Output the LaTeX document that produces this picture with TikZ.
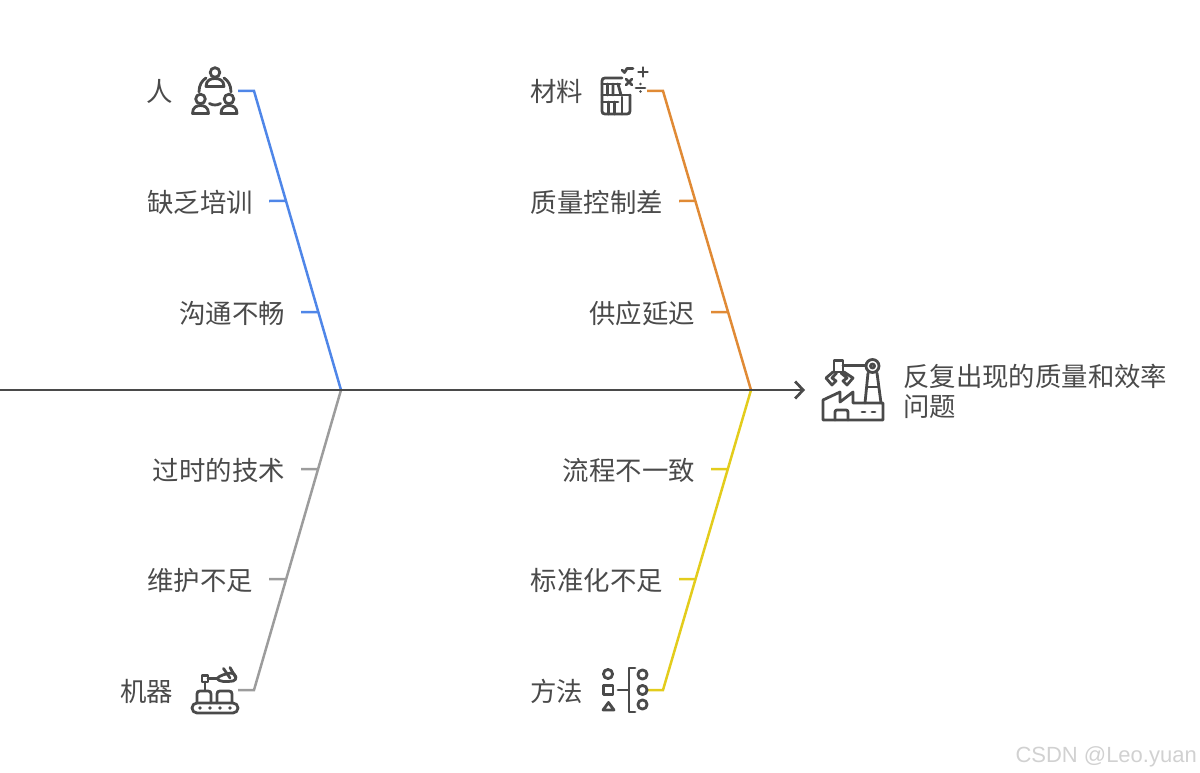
\documentclass[tikz,border=0pt]{standalone}
\usepackage{fontspec}
\setmainfont{Noto Sans CJK SC}
\newfontfamily\wmfont{Liberation Sans}
\usetikzlibrary{arrows.meta,calc}
\definecolor{ink}{HTML}{4A4A4A}
\definecolor{cblue}{HTML}{4F86E8}
\definecolor{corange}{HTML}{E08A35}
\definecolor{cgray}{HTML}{9C9C9C}
\definecolor{cyellow}{HTML}{E3CC1C}
\tikzset{
  lab/.style={inner xsep=16pt,inner ysep=0pt,anchor=east,text=ink,text height=28pt,text depth=6pt,font=\fontsize{26.4}{30}\selectfont},
  bone/.style={line width=2.5pt,line join=miter},
  ico/.style={draw=ink,line width=2.8pt,line cap=round,line join=round,fill=none},
  spine/.style={draw=ink,line width=2.7pt}
}
\begin{document}
\begin{tikzpicture}[x=1pt,y=-1pt]
\useasboundingbox (0,0) rectangle (1200,773);
% joints
\coordinate (tailL) at (0,390);
\coordinate (jL) at (341,390);
\coordinate (jR) at (751,390);
\coordinate (head) at (805,390);
\coordinate (kBlue) at (254,91);
\coordinate (kOrange) at (663,91);
\coordinate (kGray) at (254,690);
\coordinate (kYellow) at (663,690);
\coordinate (sBlue) at (238,91);
\coordinate (sOrange) at (647,91);
\coordinate (sGray) at (238,690);
\coordinate (sYellow) at (647,690);
\coordinate (b1) at ($(kBlue)!0.36789!(jL)$);
\coordinate (b2) at ($(kBlue)!0.73913!(jL)$);
\coordinate (o1) at ($(kOrange)!0.36789!(jR)$);
\coordinate (o2) at ($(kOrange)!0.73913!(jR)$);
\coordinate (g1) at ($(jL)!0.26333!(kGray)$);
\coordinate (g2) at ($(jL)!0.63!(kGray)$);
\coordinate (y1) at ($(jR)!0.26333!(kYellow)$);
\coordinate (y2) at ($(jR)!0.63!(kYellow)$);
% labels
\node[lab] (lRen) at (189,91) {人};
\node[lab] (lB1) at (269,201) {缺乏培训};
\node[lab] (lB2) at (301,312) {沟通不畅};
\node[lab] (lCai) at (599,91) {材料};
\node[lab] (lO1) at (679,201) {质量控制差};
\node[lab] (lO2) at (711,312) {供应延迟};
\node[lab] (lG1) at (301,469) {过时的技术};
\node[lab] (lG2) at (269,579) {维护不足};
\node[lab] (lJi) at (189,690) {机器};
\node[lab] (lY1) at (711,469) {流程不一致};
\node[lab] (lY2) at (679,579) {标准化不足};
\node[lab] (lFa) at (599,690) {方法};
\node[anchor=west,inner sep=0pt,text=ink,align=left,font=\fontsize{26.4}{30}\selectfont] (title) at (903,391) {反复出现的质量和效率\\问题};
\node[anchor=south east,inner sep=0pt,text=black!18,font=\wmfont\fontsize{22}{24}\selectfont] (wm) at (1197,767) {CSDN @Leo.yuan};
% bones
\draw[draw=cblue,bone] (sBlue) -- (kBlue) -- (jL);
\draw[draw=cblue,bone] (lB1.east) -- (b1);
\draw[draw=cblue,bone] (lB2.east) -- (b2);
\draw[draw=corange,bone] (sOrange) -- (kOrange) -- (jR);
\draw[draw=corange,bone] (lO1.east) -- (o1);
\draw[draw=corange,bone] (lO2.east) -- (o2);
\draw[draw=cgray,bone] (sGray) -- (kGray) -- (jL);
\draw[draw=cgray,bone] (lG1.east) -- (g1);
\draw[draw=cgray,bone] (lG2.east) -- (g2);
\draw[draw=cyellow,bone] (sYellow) -- (kYellow) -- (jR);
\draw[draw=cyellow,bone] (lY1.east) -- (y1);
\draw[draw=cyellow,bone] (lY2.east) -- (y2);
\draw[spine,-{Straight Barb[length=8pt,width=17pt,line width=2.7pt]}] (tailL) -- (head);
% people icon
\draw[ico] (215,72.5) circle (4.8);
\draw[ico] (206,86.5) .. controls (206,80) and (211,78.5) .. (215,78.5) .. controls (219,78.5) and (224,80) .. (224,86.5) -- cycle;
\draw[ico] (200.5,99) circle (4.8);
\draw[ico] (192.5,113.5) .. controls (192.5,107) and (197,105.5) .. (200.5,105.5) .. controls (204,105.5) and (208.5,107) .. (208.5,113.5) -- cycle;
\draw[ico] (229,99) circle (4.8);
\draw[ico] (221,113.5) .. controls (221,107) and (225.5,105.5) .. (229,105.5) .. controls (232.5,105.5) and (237,107) .. (237,113.5) -- cycle;
\draw[ico] (199,92) .. controls (199,85) and (202,80.5) .. (206,78);
\draw[ico] (231,92) .. controls (231,85) and (228,80.5) .. (224,78);
\draw[ico] (209.5,103.5) .. controls (213,105.5) and (217,105.5) .. (220.5,103.5);
% materials icon
\draw[ico] (622,78) -- (605,78) .. controls (603,78) and (602,79) .. (602,81) -- (602,111) .. controls (602,113) and (603,114) .. (605,114) -- (627,114) .. controls (629,114) and (630,113) .. (630,111) -- (630,95);
\draw[ico] (602,84) -- (620,84);
\draw[ico] (602,95) -- (630,95);
\draw[ico] (607.5,84) -- (607.5,95) (613,84) -- (613,95) (618,84) -- (621,95);
\draw[ico] (602,102) -- (618,102);
\draw[ico] (608.5,102) -- (608.5,114) (614.5,102) -- (614.5,114) (622,97) -- (622,114);
\draw[ico] (622,70) -- (624.5,72.5) -- (627,68.5) -- (633,68.5);
\draw[ico] (643,67.5) -- (643,76.5) (638.5,72) -- (647.5,72);
\draw[ico] (626,79) -- (632,85) (632,79) -- (626,85);
\draw[ico] (636,88) -- (645,88);
\fill[ink] (640.5,84) circle (1.4) (640.5,91.5) circle (1.4);
% factory icon
\draw[ico] (823,420) -- (823,400) -- (840,392) -- (840,402) -- (853,392) -- (853,403) -- (883,403) -- (883,420) -- cycle;
\draw[ico] (835,420) -- (835,412) .. controls (835,410.5) and (836,410) .. (837,410) -- (846,410) .. controls (847,410) and (848,410.5) .. (848,412) -- (848,420);
\draw[ico] (862,412) -- (865,412) (872,412) -- (875,412);
\draw[ico] (865,403) -- (868,373) (881,403) -- (877,373);
\draw[ico] (867,387) -- (878.5,387);
\draw[ico] (872.5,366) circle (6.5);
\draw[ico] (872.5,366) circle (2);
\draw[ico] (866,365.5) -- (843,365.5);
\draw[ico] (834,372) -- (834,360.5) -- (843,360.5) -- (843,372) -- cycle;
\draw[ico] (833,372) -- (826,378) -- (832,385) -- (836,381) -- (832,378) -- (836.5,373);
\draw[ico] (844,372) -- (853,378) -- (847,385) -- (843,381) -- (847,378) -- (841,373);
% machine icon
\draw[ico,rounded corners=5pt] (192,703) rectangle (238,713);
\fill[ink] (200,708) circle (1.8) (210,708) circle (1.8) (220,708) circle (1.8) (230,708) circle (1.8);
\draw[ico] (197,703) -- (197,694) .. controls (197,692) and (198,691) .. (200,691) -- (208,691) .. controls (210,691) and (211,692) .. (211,694) -- (211,703);
\draw[ico] (217,703) -- (217,694) .. controls (217,692) and (218,691) .. (220,691) -- (229,691) .. controls (231,691) and (232,692) .. (232,694) -- (232,703);
\draw[ico] (205,682) -- (205,690);
\draw[ico] (202,675.5) -- (208,675.5) -- (208,682) -- (202,682) -- cycle;
\draw[ico] (208,678.5) -- (217,678.5);
\draw[ico] (217,678.5) .. controls (220,675) and (226,674) .. (231,673) .. controls (236,673) and (238,680) .. (233,681) .. controls (226,682) and (219,682) .. (217,678.5);
\draw[ico] (223.5,668.5) -- (230,678) (230,667.5) -- (236,678);
% method icon
\draw[ico] (608,674) circle (4.6);
\draw[ico] (603.5,685.5) rectangle (613,694.5);
\draw[ico] (608.5,702.5) -- (603,710) -- (614,710) -- cycle;
\draw[ico] (618,690) -- (628,690);
\draw[ico] (635,668) -- (629,668) -- (629,712) -- (635,712);
\draw[ico] (642.5,674.5) circle (4.6);
\draw[ico] (642.5,690) circle (4.6);
\draw[ico] (642.5,704.5) circle (4.6);
\end{tikzpicture}
\end{document}
